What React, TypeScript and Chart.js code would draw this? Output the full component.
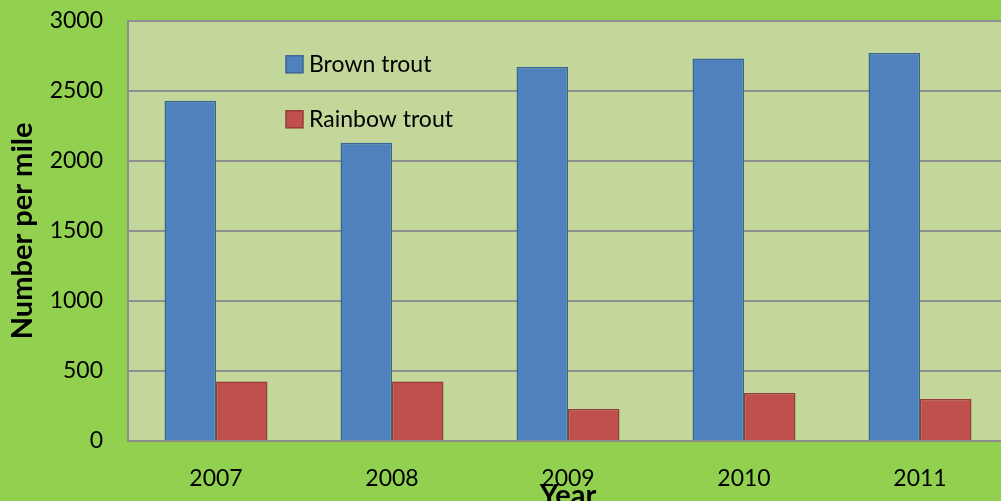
import React, { useEffect, useRef } from "react";
import { Chart, registerables } from "chart.js";

Chart.register(...registerables);

const categories = ["2007", "2008", "2009", "2010", "2011"];
const brownTrout = [2430, 2130, 2670, 2730, 2770];
const rainbowTrout = [425, 425, 228, 343, 300];
const seriesNames = ["Brown trout", "Rainbow trout"];
const yTitle = "Number per mile";
const xTitle = "Year";

const FONT = "Lato, 'Liberation Sans', sans-serif";
const SHIFT = 18;

export default function App() {
  const ref = useRef<HTMLCanvasElement | null>(null);

  useEffect(() => {
    if (!ref.current) return;
    const bgPlugin = {
      id: "plotBg",
      beforeDraw(chart: any) {
        const { ctx, chartArea } = chart;
        ctx.save();
        ctx.fillStyle = "#C4D79B";
        ctx.fillRect(chartArea.left, chartArea.top, chartArea.right - chartArea.left, chartArea.bottom - chartArea.top);
        ctx.restore();
      },
    };
    const overlayPlugin = {
      id: "overlay",
      afterDraw(chart: any) {
        const { ctx, chartArea } = chart;
        ctx.save();
        const ds = chart.data.datasets;
        const rows = [chartArea.top + 43, chartArea.top + 98];
        ds.forEach((d: any, i: number) => {
          const y = rows[i];
          ctx.fillStyle = d.backgroundColor;
          ctx.strokeStyle = d.borderColor;
          ctx.lineWidth = 1.5;
          ctx.fillRect(286, y - 8, 17, 17);
          ctx.strokeRect(286, y - 8, 17, 17);
          ctx.fillStyle = "#000";
          ctx.font = `23px ${FONT}`;
          ctx.textAlign = "left";
          ctx.textBaseline = "middle";
          ctx.fillText(d.label, 309, y + 1);
        });
        ctx.font = `bold 29px ${FONT}`;
        ctx.fillStyle = "#000";
        ctx.textAlign = "center";
        ctx.textBaseline = "middle";
        ctx.fillText(xTitle, (chartArea.left + chartArea.right) / 2, chartArea.bottom + 55);
        ctx.translate(23, (chartArea.top + chartArea.bottom) / 2);
        ctx.rotate(-Math.PI / 2);
        ctx.fillText(yTitle, 0, 0);
        ctx.restore();
      },
    };
    const chart = new Chart(ref.current, {
      type: "bar",
      data: {
        labels: categories,
        datasets: [
          {
            label: seriesNames[0],
            data: brownTrout,
            backgroundColor: "#4F81BD",
            borderColor: "#3A6497",
            borderWidth: 1.5,
            categoryPercentage: 0.585,
            barPercentage: 1,
          },
          {
            label: seriesNames[1],
            data: rainbowTrout,
            backgroundColor: "#C0504D",
            borderColor: "#953B39",
            borderWidth: 1.5,
            categoryPercentage: 0.585,
            barPercentage: 1,
          },
        ],
      },
      options: {
        responsive: false,
        animation: false,
        devicePixelRatio: 1,
        layout: { padding: { top: 4, right: 2, left: 0, bottom: 0 } },
        plugins: { legend: { display: false }, tooltip: { enabled: false } },
        scales: {
          x: {
            grid: { display: false, drawTicks: false },
            border: { display: true, color: "#8E8E8E", width: 2 },
            ticks: { color: "#000", font: { family: FONT, size: 23 }, padding: 24 },
            afterFit(scale: any) {
              scale.height = 60;
            },
          },
          y: {
            min: 0,
            max: 3000,
            grid: { color: "#8E8E8E", lineWidth: 2, drawTicks: false },
            border: { display: true, color: "#8E8E8E", width: 2 },
            ticks: {
              stepSize: 500,
              color: "#000",
              font: { family: FONT, size: 23 },
              padding: 25,
              callback: (v: any) => String(v),
            },
            afterFit(scale: any) {
              scale.width = 128;
            },
          },
        },
      },
      plugins: [bgPlugin, overlayPlugin],
    });
    return () => chart.destroy();
  }, []);

  return (
    <div
      style={{
        position: "fixed",
        left: 0,
        top: 0,
        width: 1001,
        height: 501,
        overflow: "hidden",
        background: "#92D050",
      }}
    >
      <canvas
        ref={ref}
        width={1010}
        height={501 + SHIFT}
        style={{ display: "block", width: 1010, height: 501 + SHIFT, marginTop: -SHIFT }}
      />
    </div>
  );
}
